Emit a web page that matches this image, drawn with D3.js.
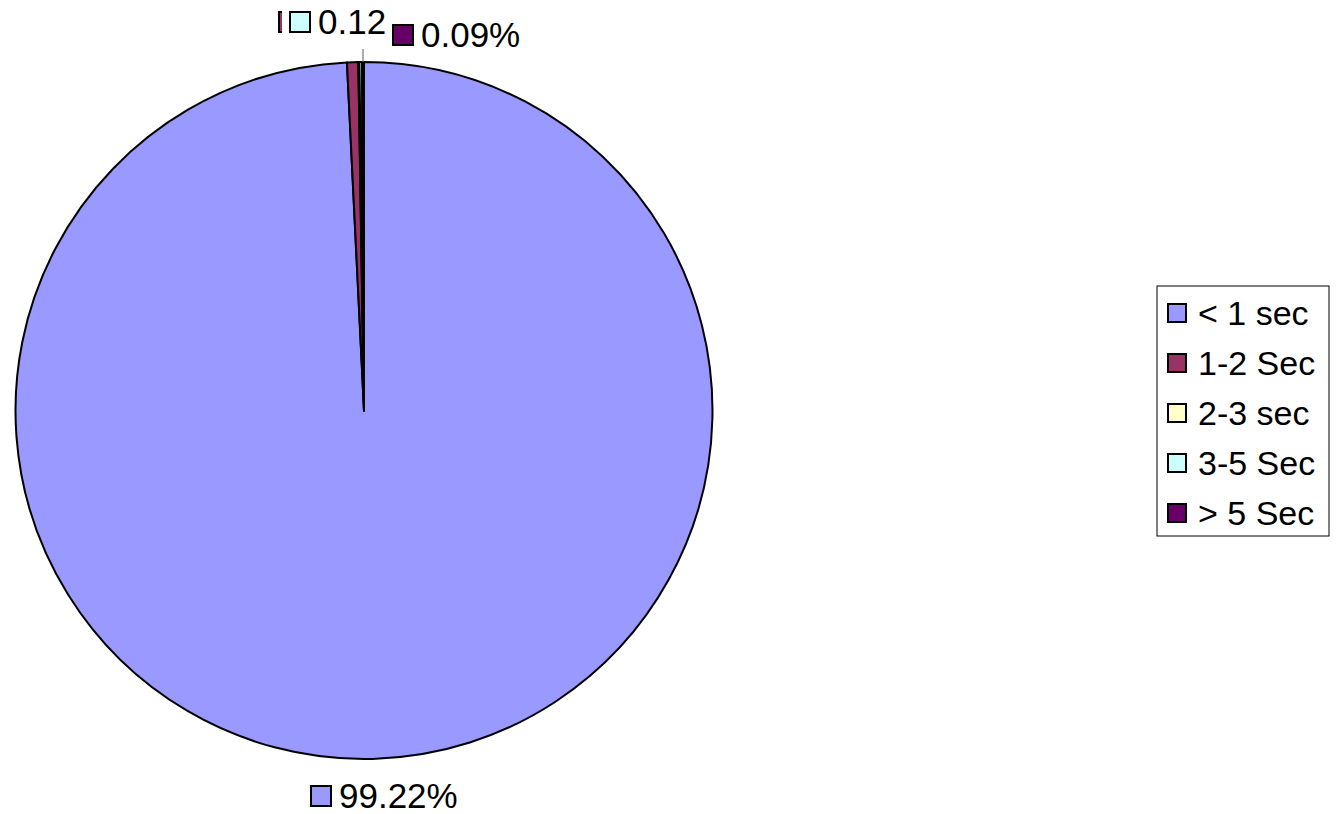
<!DOCTYPE html>
<html>
<head>
<meta charset="utf-8">
<script src="https://cdn.jsdelivr.net/npm/d3@7"></script>
<style>
  body { margin: 0; background: #fff; }
  text { font-family: "Liberation Sans", Arial, sans-serif; }
</style>
</head>
<body>
<svg id="chart" width="1336" height="814"></svg>
<script>
// data
var categories = ["< 1 sec", "1-2 Sec", "2-3 sec", "3-5 Sec", "> 5 Sec"];
var percents = [99.22, 0.52, 0.05, 0.12, 0.09];
var labelTexts = ["99.22%", "0.52%", "0.05%", "0.12%", "0.09%"];
var colours = ["#9999FF", "#993366", "#FFFFCC", "#CCFFFF", "#660066"];

var svg = d3.select("#chart");
var cx = 364, cy = 410.5, radius = 348.5;
var fontSize = 35;

var color = d3.scaleOrdinal().domain(categories).range(colours);

var pie = d3.pie().sort(null).value(function(d) { return d.value; });
var arc = d3.arc().innerRadius(0).outerRadius(radius);

var rows = categories.map(function(c, i) {
    return { name: c, value: percents[i], label: labelTexts[i] };
});
var arcs = pie(rows);

var g = svg.append("g").attr("transform", "translate(" + cx + "," + cy + ")");

g.selectAll("path.slice")
    .data(arcs)
    .enter().append("path")
    .attr("class", "slice")
    .attr("d", arc)
    .attr("fill", function(d) { return color(d.data.name); })
    .attr("stroke", "#000")
    .attr("stroke-width", 2)
    .attr("stroke-linejoin", "round");

// leader line for the last tiny slice
var lastArc = arcs[arcs.length - 1];
var pt = d3.arc().innerRadius(radius).outerRadius(radius).centroid(lastArc);
g.append("line")
    .attr("x1", pt[0]).attr("y1", pt[1])
    .attr("x2", pt[0]).attr("y2", pt[1] - 13)
    .attr("stroke", "#777").attr("stroke-width", 1.2);

// data labels: the big one under the pie, the tiny ones squeezed over the top
// (they overlap, later ones paint over earlier ones like the original)
// offsets relative to the pie centre (x of key square, y of baseline)
function labelPos(i) {
    if (i === 0) return [-53, radius + 49];
    var xs = [null, -85, -74, -74, 29];
    var ys = [null, -376.5, -376.5, -376.5, -363.5];
    return [xs[i], ys[i]];
}

var sq = 20, pad = 8;
arcs.forEach(function(d, i) {
    var p = labelPos(i);
    var lg = g.append("g").attr("transform", "translate(" + p[0] + "," + p[1] + ")");
    var bg = lg.append("rect").attr("fill", "#fff");
    lg.append("rect")
        .attr("x", 0).attr("y", -sq - 2)
        .attr("width", sq).attr("height", sq)
        .attr("fill", color(d.data.name))
        .attr("stroke", "#000").attr("stroke-width", 2);
    var t = lg.append("text")
        .attr("x", sq + 8).attr("y", 0)
        .attr("font-size", fontSize)
        .text(d.data.label);
    var w = t.node().getComputedTextLength();
    bg.attr("x", -pad).attr("y", -fontSize - 8)
        .attr("width", pad + sq + 8 + w + 4).attr("height", fontSize + 13);
});

// legend
var lx = 1157, ly = 286, lw = 172, lh = 250, step = 50;
var legend = svg.append("g");
legend.append("rect")
    .attr("x", lx).attr("y", ly).attr("width", lw).attr("height", lh)
    .attr("fill", "#fff").attr("stroke", "#000").attr("stroke-width", 1);

var items = legend.selectAll("g.item")
    .data(categories)
    .enter().append("g")
    .attr("class", "item")
    .attr("transform", function(d, i) { return "translate(" + (lx + 11) + "," + (ly + 27 + i * step) + ")"; });

items.append("rect")
    .attr("x", 0).attr("y", -9)
    .attr("width", 18).attr("height", 18)
    .attr("fill", function(d) { return color(d); })
    .attr("stroke", "#000").attr("stroke-width", 2);

items.append("text")
    .attr("x", 30).attr("y", 12)
    .attr("font-size", 34)
    .text(function(d) { return d; });
</script>
</body>
</html>
